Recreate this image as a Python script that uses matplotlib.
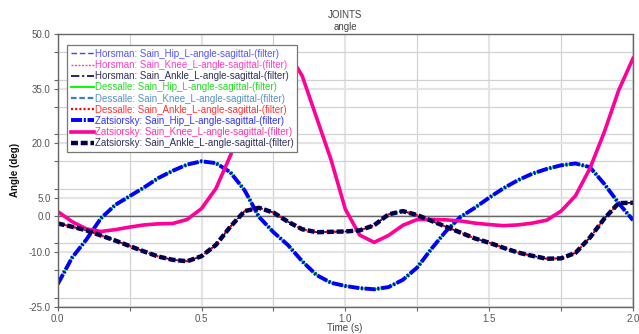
import numpy as np
import matplotlib
matplotlib.use("Agg")
import matplotlib.pyplot as plt
from matplotlib.ticker import MultipleLocator

plt.rcParams['font.family'] = ['Liberation Sans', 'DejaVu Sans']
plt.rcParams['lines.scale_dashes'] = False

# time axis (s) and joint angles (deg)
time = np.round(np.arange(0, 2.0001, 0.05), 2)

hip = [-18.8, -11.5, -6.5, -0.7, 3.0, 5.4, 7.8, 10.4, 12.4, 14.1,
       15.0, 14.5, 12.0, 7.0, -0.3, -4.5, -8.0, -12.5, -16.3, -18.4,
       -19.3, -19.9, -20.2, -19.6, -17.6, -14.2, -9.0, -4.2, -0.3, 2.2,
       5.0, 7.6, 9.8, 11.6, 12.9, 13.9, 14.4, 13.4, 8.8, 3.5, -1.2]

knee = [1.2, -1.6, -3.6, -4.3, -3.8, -3.1, -2.5, -2.2, -2.1, -1.0,
        2.0, 7.5, 16.5, 26.5, 36.5, 43.5, 45.0, 38.5, 27.0, 15.5,
        1.8, -5.3, -7.3, -5.4, -2.6, -1.0, -1.0, -1.1, -1.4, -2.0,
        -2.4, -2.7, -2.5, -2.0, -1.2, 1.3, 5.5, 13.0, 23.0, 34.5, 43.3]

ankle = [-2.1, -3.0, -4.0, -5.4, -6.8, -8.3, -9.8, -11.2, -12.1, -12.5,
         -11.1, -8.0, -3.0, 1.3, 2.2, 0.9, -1.6, -3.7, -4.5, -4.4,
         -4.3, -4.0, -2.6, 0.4, 1.3, 0.2, -1.4, -3.0, -4.6, -6.2,
         -7.4, -8.8, -10.1, -11.0, -11.8, -11.7, -10.2, -6.0, -0.8, 3.5, 3.6]

joint_data = {"Hip": hip, "Knee": knee, "Ankle": ankle}

# (author, joint, color, linestyle, linewidth, text color)
series = [
    ("Horsman", "Hip", "#4040ff", (0, (4, 2)), 1.0, "#5555ff"),
    ("Horsman", "Knee", "#ff40c0", (0, (1.5, 1)), 1.0, "#ff40c0"),
    ("Horsman", "Ankle", "#000060", (0, (6, 2, 1.5, 2)), 1.2, "#303060"),
    ("Dessalle", "Hip", "#00ff00", "-", 1.4, "#22dd22"),
    ("Dessalle", "Knee", "#3a7fb5", (0, (4, 2)), 1.6, "#5a90c0"),
    ("Dessalle", "Ankle", "#ff0000", (0, (1.5, 1.5)), 1.6, "#ff3333"),
    ("Zatsiorsky", "Hip", "#0000ff", (0, (8, 1.2, 1.5, 1.2)), 2.8, "#3333ff"),
    ("Zatsiorsky", "Knee", "#ff0099", "-", 2.6, "#ff33aa"),
    ("Zatsiorsky", "Ankle", "#000050", (0, (5, 2)), 3.2, "#303060"),
]

fig = plt.figure(figsize=(6.39, 3.34), dpi=100)
ax = fig.add_axes([0.0903, 0.0817, 0.9003, 0.8163])

for author, joint, col, ls, lw, tc in series:
    ax.plot(time, joint_data[joint], color=col, linestyle=ls, linewidth=lw,
            label=f"{author}: Sain_{joint}_L-angle-sagittal-(filter)")

ax.set_xlim(0, 2.0)
ax.set_ylim(-25, 50)
ax.set_xticks([0, 0.5, 1.0, 1.5, 2.0])
ax.set_xticklabels(["0.0", "0.5", "1.0", "1.5", "2.0"])
ax.xaxis.set_minor_locator(MultipleLocator(0.25))
ax.set_yticks([-25, -10, 0, 5, 20, 35, 50])
ax.set_yticklabels(["-25.0", "-10.0", "0.0", "5.0", "20.0", "35.0", "50.0"])
ax.yaxis.set_minor_locator(MultipleLocator(7.5))

ax.grid(which="major", color="#e4e4e4", linewidth=1.6)
ax.grid(which="minor", color="#d2d2d2", linewidth=0.9)
ax.set_axisbelow(True)
ax.axhline(0, color="#666666", linewidth=1.0, zorder=1.5)

ax.tick_params(which="both", direction="out", length=3, width=0.8,
               color="#666666", labelsize=7, labelcolor="#555555", pad=2)
for sp in ax.spines.values():
    sp.set_color("#666666")
    sp.set_linewidth(1.0)

leg = ax.legend(loc="upper left", bbox_to_anchor=(0.016, 0.96), borderaxespad=0,
                fontsize=7, handlelength=2.4, handletextpad=0.05, labelspacing=0.12,
                borderpad=0.4, fancybox=False, framealpha=1, edgecolor="#777777")
leg.get_frame().set_linewidth(0.9)
for txt, s in zip(leg.get_texts(), series):
    txt.set_color(s[5])

fig.text(0.54, 0.955, "JOINTS", ha="center", va="center", fontsize=7, color="#444444")
fig.text(0.54, 0.92, "angle", ha="center", va="center", fontsize=7, color="#444444")
fig.text(0.024, 0.49, "Angle (deg)", rotation=90, ha="center", va="center",
         fontsize=7, fontweight="bold", color="#111111")
fig.text(0.54, 0.018, "Time (s)", ha="center", va="center", fontsize=7, color="#444444")

fig.savefig("out.png", dpi=100)
